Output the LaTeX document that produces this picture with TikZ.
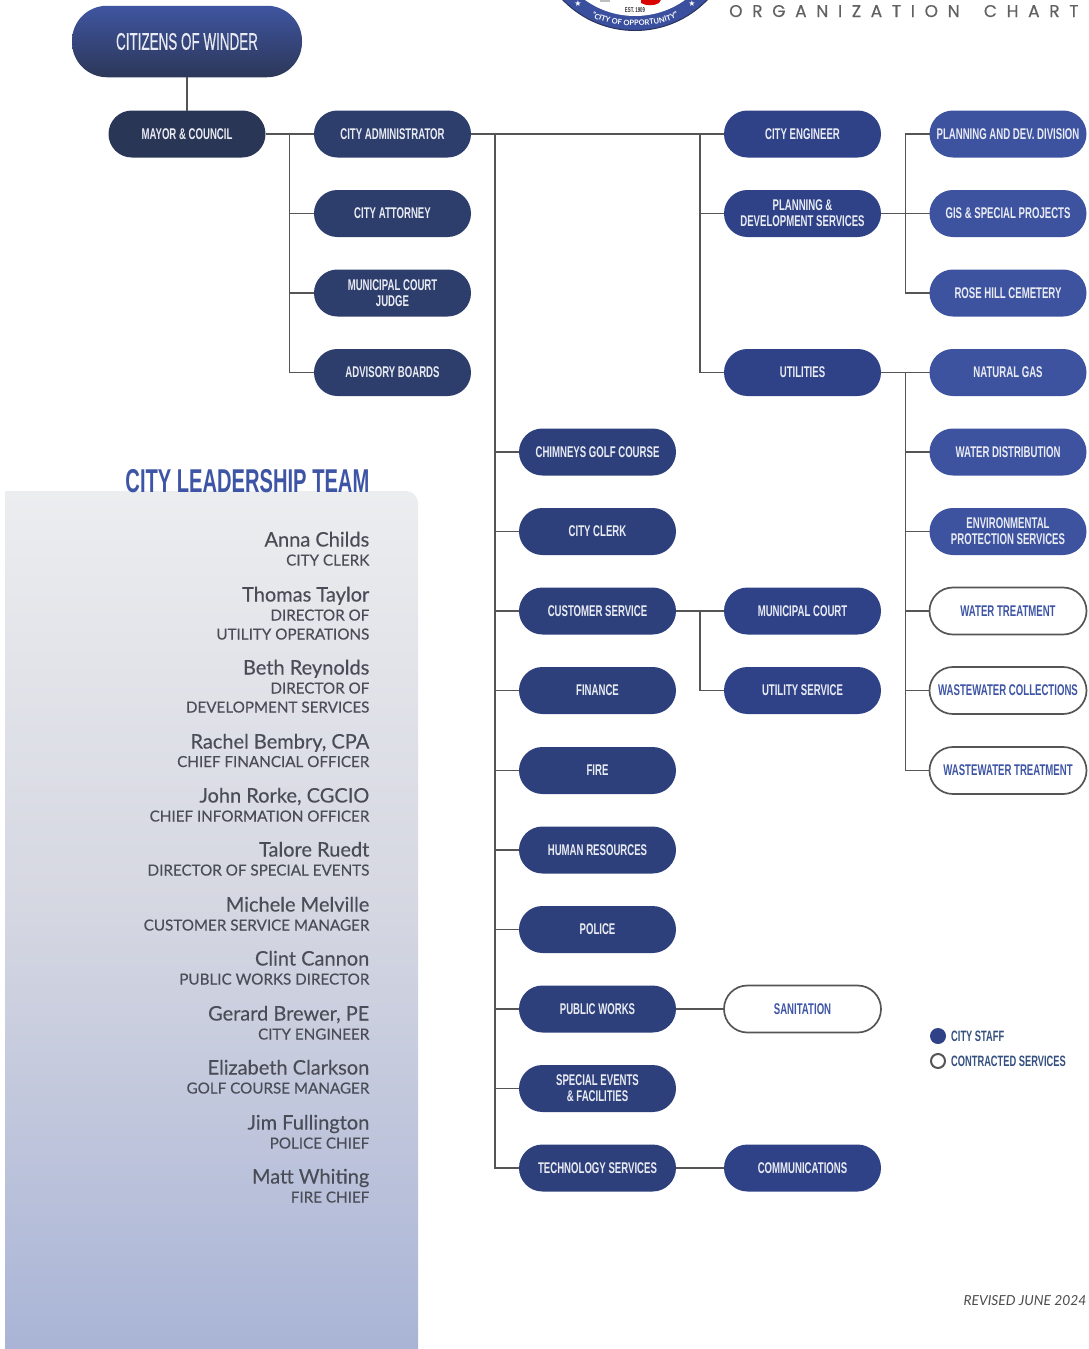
\documentclass[tikz,border=0pt]{standalone}
\usepackage{fontspec}
\usetikzlibrary{decorations.text}
\setmainfont{Lato}
\newfontfamily\leadf[FakeBold=0.25]{Lato}
\newfontfamily\condf[FakeStretch=0.56,FakeBold=0.3]{Liberation Sans}
\newfontfamily\condb[FakeStretch=0.62]{Liberation Sans Bold}
\newfontfamily\headf[FakeStretch=0.61]{Liberation Sans Bold}
\newfontfamily\titlef[LetterSpace=57,FakeBold=0.4]{Poppins}
\newfontfamily\starf{DejaVu Sans}
\definecolor{cMayor}{HTML}{2A3655}
\definecolor{cCol2}{HTML}{2E3E6C}
\definecolor{cCol3}{HTML}{2D407B}
\definecolor{cCol4}{HTML}{2F4287}
\definecolor{cCol5}{HTML}{3D53A0}
\definecolor{cLine}{HTML}{555555}
\definecolor{cHead}{HTML}{3E55A5}
\definecolor{cLead}{HTML}{4A4D57}
\definecolor{cPill}{HTML}{E9EBF3}
\definecolor{cLegend}{HTML}{34507F}
\definecolor{cPanelTop}{HTML}{ECEDEF}
\definecolor{cPanelMid}{HTML}{D4D6E1}
\definecolor{cPanelBot}{HTML}{A9B4D6}
\definecolor{cCitTop}{HTML}{3F55A0}
\definecolor{cCitBot}{HTML}{2C3759}
\tikzset{
  pill/.style={rectangle,rounded corners=23.4pt,minimum width=157pt,minimum height=47pt,inner sep=0pt,outer sep=0pt,align=center,text=cPill,font=\condb\fontsize{15.5}{16}\selectfont},
  mayorpill/.style={pill,fill=cMayor},
  admpill/.style={pill,fill=cCol2},
  midpill/.style={pill,fill=cCol3},
  engpill/.style={pill,fill=cCol4},
  rightpill/.style={pill,fill=cCol5},
  contract/.style={pill,fill=white,draw=cLine,line width=1.7pt,text=cHead},
  conn/.style={draw=cLine,line width=1.5pt},
  leadname/.style={anchor=base east,inner sep=0pt,text=cLead,font=\leadf\fontsize{20}{20}\selectfont},
  leadtitle/.style={anchor=base east,inner sep=0pt,text=cLead,font=\leadf\fontsize{15.2}{16}\selectfont},
}
\begin{document}
\begin{tikzpicture}[x=1pt,y=-1pt]
\path[use as bounding box,fill=white] (0,0) rectangle (1088,1349);
% leadership panel
\path[top color=cPanelTop,bottom color=cPanelBot,middle color=cPanelMid]
  (5,1349) -- (5,491) [rounded corners=12pt] -- (418,491) [sharp corners] -- (418,1349) -- cycle;
% logo
\begin{scope}
\clip (0,0) rectangle (1088,1349);
\fill[fill={rgb,255:red,58;green,79;blue,158},draw={rgb,255:red,40;green,50;blue,90},line width=1pt] (635,-70) circle (100.5pt);
\fill[white] (635,-70) circle (86pt);
\fill[red!85!black] (641,-2) -- (662,-2) -- (659,3) .. controls (654,6) and (646,6) .. (641,3) -- cycle;
\fill[black!25] (600,-2) rectangle (610,2);
\node[name=logoest,text=black!80,inner sep=0pt,font=\condb\fontsize{7}{7}\selectfont] at (635,10) {EST. 1909};
\node[name=logostara,text=white,inner sep=0pt,font=\starf\fontsize{8}{8}\selectfont] at (578,4) {★};
\node[name=logostarb,text=white,inner sep=0pt,font=\starf\fontsize{8}{8}\selectfont] at (692,4) {★};
\path[decorate,decoration={text along path,text align=center,text={|\fontsize{7.5}{7.5}\selectfont\bfseries\color{white}|"CITY OF OPPORTUNITY"}}]
  (584,11) .. controls (602,30.5) and (668,30.5) .. (686,11);
\end{scope}
\node[name=chart,anchor=base west,inner sep=0pt,text=black!62,font=\titlef\fontsize{17}{17}\selectfont] at (729,17) {ORGANIZATION\hspace{10pt} CHART};
% nodes
\node[name=citizens,rectangle,rounded corners=35pt,minimum width=230pt,minimum height=71.5pt,inner sep=0pt,outer sep=0pt,
  top color=cCitTop,bottom color=cCitBot,text=cPill,font=\condf\fontsize{24}{24}\selectfont] at (187,41.5) {CITIZENS OF WINDER};
\node[mayorpill,name=mayor] at (187,134) {MAYOR \& COUNCIL};
\node[admpill,name=admin] at (392.5,134) {CITY ADMINISTRATOR};
\node[admpill,name=attorney] at (392.5,213.5) {CITY ATTORNEY};
\node[admpill,name=judge] at (392.5,293) {MUNICIPAL COURT\\JUDGE};
\node[admpill,name=advisory] at (392.5,372.5) {ADVISORY BOARDS};
\node[midpill,name=golf] at (597.5,452) {CHIMNEYS GOLF COURSE};
\node[midpill,name=clerk] at (597.5,531.5) {CITY CLERK};
\node[midpill,name=custserv] at (597.5,611) {CUSTOMER SERVICE};
\node[midpill,name=finance] at (597.5,690.5) {FINANCE};
\node[midpill,name=fire] at (597.5,770.5) {FIRE};
\node[midpill,name=hr] at (597.5,850) {HUMAN RESOURCES};
\node[midpill,name=police] at (597.5,929.5) {POLICE};
\node[midpill,name=pubworks] at (597.5,1009) {PUBLIC WORKS};
\node[midpill,name=events] at (597.5,1088.5) {SPECIAL EVENTS\\\& FACILITIES};
\node[midpill,name=tech] at (597.5,1168) {TECHNOLOGY SERVICES};
\node[engpill,name=engineer] at (802.5,134) {CITY ENGINEER};
\node[engpill,name=plandev] at (802.5,213.5) {PLANNING \&\\DEVELOPMENT SERVICES};
\node[engpill,name=utilities] at (802.5,372.5) {UTILITIES};
\node[engpill,name=court] at (802.5,611) {MUNICIPAL COURT};
\node[engpill,name=utilserv] at (802.5,690.5) {UTILITY SERVICE};
\node[contract,name=sanitation] at (802.5,1009) {SANITATION};
\node[engpill,name=comms] at (802.5,1168) {COMMUNICATIONS};
\node[rightpill,name=division] at (1008,134) {PLANNING AND DEV. DIVISION};
\node[rightpill,name=gis] at (1008,213.5) {GIS \& SPECIAL PROJECTS};
\node[rightpill,name=cemetery] at (1008,293) {ROSE HILL CEMETERY};
\node[rightpill,name=gas] at (1008,372.5) {NATURAL GAS};
\node[rightpill,name=waterdist] at (1008,452) {WATER DISTRIBUTION};
\node[rightpill,name=environ] at (1008,531.5) {ENVIRONMENTAL\\PROTECTION SERVICES};
\node[contract,name=watertreat] at (1008,611) {WATER TREATMENT};
\node[contract,name=wastecoll] at (1008,690.5) {WASTEWATER COLLECTIONS};
\node[contract,name=wastetreat] at (1008,770.5) {WASTEWATER TREATMENT};
% junctions
\coordinate (ja) at (289.5,134);
\coordinate (jb) at (495,134);
\coordinate (jc) at (700,134);
\coordinate (jd) at (905.5,213.5);
\coordinate (je) at (905.5,372.5);
\coordinate (jf) at (700,611);
% connectors
\draw[conn] (citizens.south) -- (mayor.north);
\draw[conn] (mayor.east) -- (admin.west);
\draw[conn] (admin.east) -- (engineer.west);
\foreach \t in {attorney,judge,advisory} \draw[conn] (ja) |- (\t.west);
\foreach \t in {golf,clerk,custserv,finance,fire,hr,police,pubworks,events,tech} \draw[conn] (jb) |- (\t.west);
\foreach \t in {plandev,utilities} \draw[conn] (jc) |- (\t.west);
\draw[conn] (plandev.east) -- (gis.west);
\foreach \t in {division,cemetery} \draw[conn] (jd) |- (\t.west);
\draw[conn] (utilities.east) -- (gas.west);
\foreach \t in {waterdist,environ,watertreat,wastecoll,wastetreat} \draw[conn] (je) |- (\t.west);
\draw[conn] (custserv.east) -- (court.west);
\draw[conn] (jf) |- (utilserv.west);
\draw[conn] (pubworks.east) -- (sanitation.west);
\draw[conn] (tech.east) -- (comms.west);
% leadership
\node[name=leadhead,anchor=base east,inner sep=0pt,text=cHead,font=\headf\fontsize{33}{33}\selectfont] at (369.5,492) {CITY LEADERSHIP TEAM};
\node[leadname,name=n1] at (369.5,546.5) {Anna Childs};
\node[leadtitle,name=t1] at (369.5,565.5) {CITY CLERK};
\node[leadname,name=n2] at (369.5,601.5) {Thomas Taylor};
\node[leadtitle,name=t2a] at (369.5,620.5) {DIRECTOR OF};
\node[leadtitle,name=t2b] at (369.5,639.5) {UTILITY OPERATIONS};
\node[leadname,name=n3] at (369.5,674.5) {Beth Reynolds};
\node[leadtitle,name=t3a] at (369.5,693.5) {DIRECTOR OF};
\node[leadtitle,name=t3b] at (369.5,712.5) {DEVELOPMENT SERVICES};
\node[leadname,name=n4] at (369.5,748.5) {Rachel Bembry, CPA};
\node[leadtitle,name=t4] at (369.5,767) {CHIEF FINANCIAL OFFICER};
\node[leadname,name=n5] at (369.5,802.5) {John Rorke, CGCIO};
\node[leadtitle,name=t5] at (369.5,821.5) {CHIEF INFORMATION OFFICER};
\node[leadname,name=n6] at (369.5,856.5) {Talore Ruedt};
\node[leadtitle,name=t6] at (369.5,875.5) {DIRECTOR OF SPECIAL EVENTS};
\node[leadname,name=n7] at (369.5,911.5) {Michele Melville};
\node[leadtitle,name=t7] at (369.5,930.5) {CUSTOMER SERVICE MANAGER};
\node[leadname,name=n8] at (369.5,965.5) {Clint Cannon};
\node[leadtitle,name=t8] at (369.5,984.5) {PUBLIC WORKS DIRECTOR};
\node[leadname,name=n9] at (369.5,1020.5) {Gerard Brewer, PE};
\node[leadtitle,name=t9] at (369.5,1039.5) {CITY ENGINEER};
\node[leadname,name=n10] at (369.5,1074.5) {Elizabeth Clarkson};
\node[leadtitle,name=t10] at (369.5,1093.5) {GOLF COURSE MANAGER};
\node[leadname,name=n11] at (369.5,1129.5) {Jim Fullington};
\node[leadtitle,name=t11] at (369.5,1148.5) {POLICE CHIEF};
\node[leadname,name=n12] at (369.5,1183.5) {Matt Whiting};
\node[leadtitle,name=t12] at (369.5,1202.5) {FIRE CHIEF};
% legend
\fill[cCol4] (938,1036) circle (8pt);
\draw[cLine,line width=2pt,fill=white] (938,1061) circle (7pt);
\node[name=legenda,anchor=west,inner sep=0pt,text=cLegend,font=\condb\fontsize{15}{15}\selectfont] at (951,1036) {CITY STAFF};
\node[name=legendb,anchor=west,inner sep=0pt,text=cLegend,font=\condb\fontsize{15}{15}\selectfont] at (951,1061) {CONTRACTED SERVICES};
\node[name=revised,anchor=east,inner sep=0pt,text=black!70,font=\itshape\fontsize{13.8}{14}\selectfont] at (1086.5,1301) {REVISED JUNE 2024};
\end{tikzpicture}
\end{document}
